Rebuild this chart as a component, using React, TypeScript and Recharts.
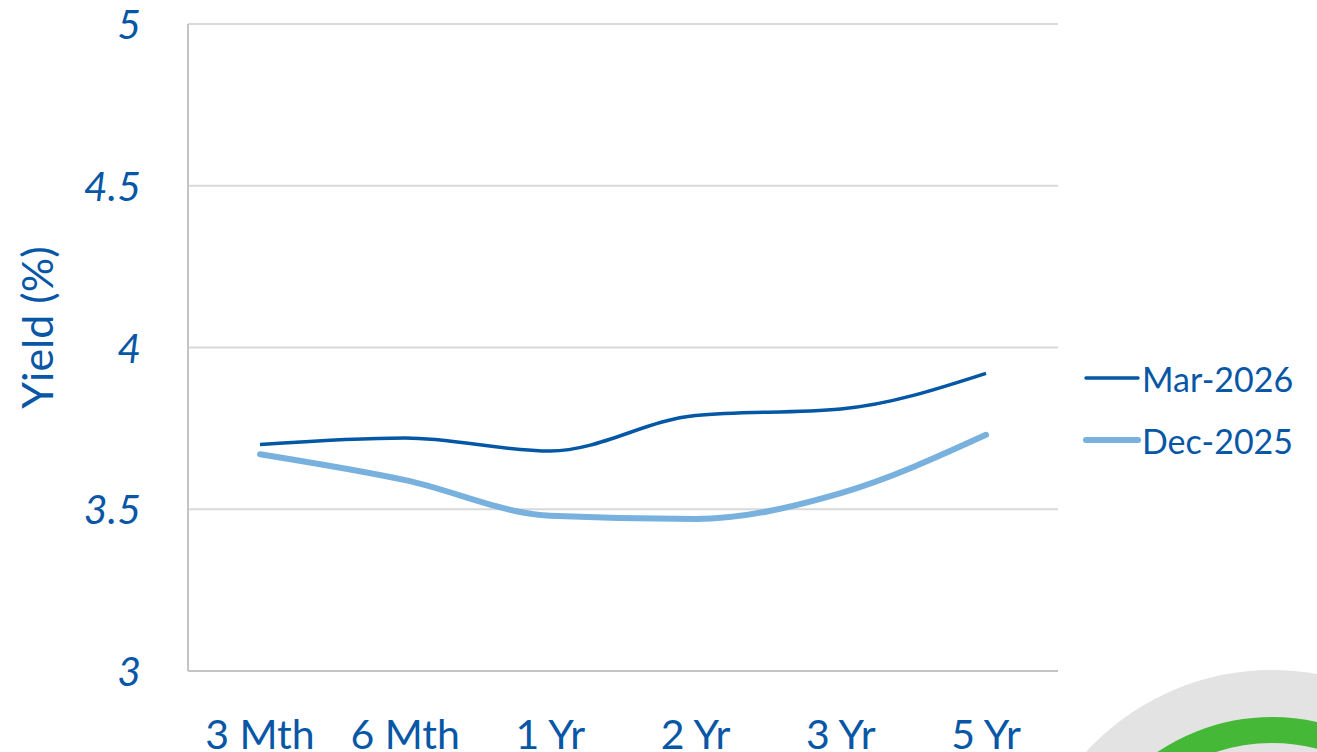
import { LineChart, Line, XAxis, YAxis, CartesianGrid } from "recharts";

const tenors = ["3 Mth", "6 Mth", "1 Yr", "2 Yr", "3 Yr", "5 Yr"];
const mar2026 = [3.7, 3.72, 3.68, 3.79, 3.81, 3.92];
const dec2025 = [3.67, 3.59, 3.48, 3.47, 3.55, 3.73];
const yTicks = [3, 3.5, 4, 4.5, 5];
const seriesNames = ["Mar-2026", "Dec-2025"];

const data = tenors.map((t, i) => ({ tenor: t, mar: mar2026[i], dec: dec2025[i] }));

const BLUE = "#0857a6";
const DARK = "#0357a5";
const LIGHT = "#78b0de";
const FONT = "Lato, 'Open Sans', sans-serif";

const YTick = (props: any) => {
  const { x, y, payload } = props;
  return (
    <text x={x - 39} y={y} dy={15} textAnchor="end" fill={BLUE} fontSize={41} fontStyle="italic" fontFamily={FONT}>
      {payload.value}
    </text>
  );
};

const XTick = (props: any) => {
  const { x, y, payload } = props;
  return (
    <text x={x} y={y} dy={70} textAnchor="middle" fill={BLUE} fontSize={41} fontFamily={FONT}>
      {payload.value}
    </text>
  );
};

export default function App() {
  const legendItems = [
    { name: seriesNames[0], color: DARK, width: 3.5 },
    { name: seriesNames[1], color: LIGHT, width: 6 },
  ];
  return (
    <div style={{ position: "absolute", left: 0, top: 0, width: 1317, height: 752, overflow: "hidden", background: "#fff" }}>
      <svg width={1317} height={752} style={{ position: "absolute", left: 0, top: 0 }}>
        <circle cx={1272} cy={922} r={252} fill="#e3e3e4" />
        <circle cx={1272} cy={922} r={192} fill="none" stroke="#45b838" strokeWidth={26} />
      </svg>
      <div style={{ position: "absolute", left: 0, top: 0 }}>
        <LineChart width={1317} height={752} data={data} margin={{ top: 24, right: 259, bottom: 0, left: 0 }}>
          <CartesianGrid vertical={false} stroke="#d9d9d9" strokeWidth={2} />
          <XAxis
            dataKey="tenor"
            height={81}
            padding={{ left: 72, right: 72 }}
            axisLine={{ stroke: "#c4c4c4", strokeWidth: 2 }}
            tickLine={false}
            tick={<XTick />}
            interval={0}
          />
          <YAxis
            width={188}
            domain={[3, 5]}
            ticks={yTicks}
            axisLine={{ stroke: "#c4c4c4", strokeWidth: 2 }}
            tickLine={false}
            tick={<YTick />}
            label={{
              value: "Yield (%)",
              angle: -90,
              position: "insideLeft",
              dx: 33,
              dy: -20,
              style: { fill: BLUE, fontSize: 43, fontFamily: FONT, textAnchor: "middle" },
            }}
          />
          <Line type="monotone" dataKey="mar" name={seriesNames[0]} stroke={DARK} strokeWidth={3.5} dot={false} isAnimationActive={false} />
          <Line type="monotone" dataKey="dec" name={seriesNames[1]} stroke={LIGHT} strokeWidth={6} dot={false} strokeLinecap="round" isAnimationActive={false} />
        </LineChart>
      </div>
      <div style={{ position: "absolute", left: 1082, top: 347 }}>
        {legendItems.map((p) => (
          <div key={p.name} style={{ display: "flex", alignItems: "center", height: 62 }}>
            <svg width={60} height={10}>
              <line x1={4} y1={5} x2={56} y2={5} stroke={p.color} strokeWidth={p.width} strokeLinecap="round" />
            </svg>
            <span style={{ color: BLUE, fontSize: 34, fontFamily: FONT }}>{p.name}</span>
          </div>
        ))}
      </div>
    </div>
  );
}
